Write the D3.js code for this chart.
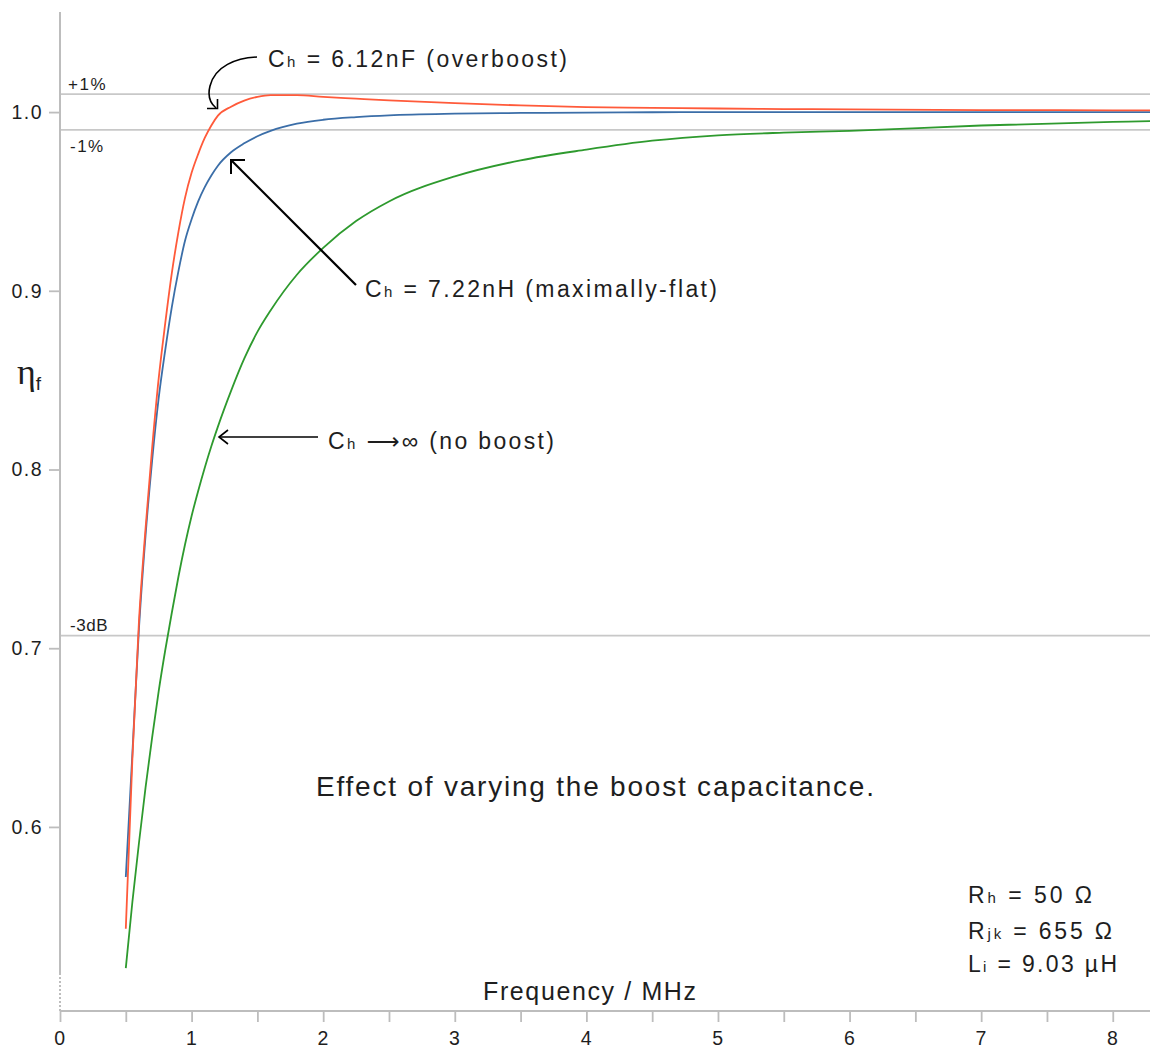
<!DOCTYPE html>
<html>
<head>
<meta charset="utf-8">
<script src="https://cdn.jsdelivr.net/npm/d3@7"></script>
<style>
body { margin: 0; background: #fff; }
text { font-family: "Liberation Sans", Arial, sans-serif; fill: #1e1e1e; }
</style>
</head>
<body>
<script>
// frequency grid (MHz) and the three responses
const freq = [0.5, 0.55, 0.6, 0.65, 0.7, 0.75, 0.8, 0.85, 0.9, 0.95, 1.0, 1.05, 1.1, 1.15, 1.2, 1.3, 1.4,
              1.5, 1.6, 1.8, 2.0, 2.25, 2.5, 3.0, 3.5, 4.0, 4.5, 5.0, 5.5, 6.0, 7.0, 8.0, 8.3];
const etaOverboost = [0.543, 0.638, 0.715, 0.767, 0.812, 0.851, 0.882, 0.910, 0.933, 0.952, 0.966,
                      0.9765, 0.9855, 0.9925, 0.998, 1.003, 1.0064, 1.0085, 1.0095, 1.0095, 1.0085,
                      1.0075, 1.0065, 1.005, 1.0037, 1.0028, 1.0024, 1.002, 1.0017, 1.0015, 1.0011,
                      1.001, 1.0009];
const etaMaxFlat = [0.572, 0.641, 0.711, 0.763, 0.805, 0.840, 0.867, 0.891, 0.911, 0.928, 0.940,
                    0.950, 0.958, 0.9645, 0.970, 0.9775, 0.9825, 0.9865, 0.9895, 0.9935, 0.9957,
                    0.9972, 0.9982, 0.9991, 0.9995, 0.9997, 0.9999, 1.0, 1.0, 1.0, 1.0, 1.0, 1.0];
const etaNoBoost = [0.521, 0.558, 0.591, 0.622, 0.650, 0.676, 0.699, 0.720, 0.740, 0.758, 0.774,
                    0.788, 0.801, 0.813, 0.824, 0.844, 0.862, 0.877, 0.889, 0.909, 0.924,
                    0.939, 0.950, 0.964, 0.973, 0.979, 0.984, 0.987, 0.9885, 0.9895, 0.9925,
                    0.9945, 0.995];

const xTickValues = [0, 0.5, 1, 1.5, 2, 2.5, 3, 3.5, 4, 4.5, 5, 5.5, 6, 6.5, 7, 7.5, 8];
const yTickValues = [0.6, 0.7, 0.8, 0.9, 1.0];
const refLevels = [1.01, 0.99, 0.7071];
const refLabels = ["+1%", "-1%", "-3dB"];
const params = [["R", "h", " = 50 Ω"], ["R", "jk", " = 655 Ω"], ["L", "i", " = 9.03 µH"]];

let width = 1150, height = 1048;

let svg = d3.select("body")
            .append("svg")
            .attr("width", width)
            .attr("height", height);

let xScale = d3.scaleLinear().domain([0, 8.283]).range([60, 1150]);
let yScale = d3.scaleLinear().domain([0.497, 1.056]).range([1011, 12]);

svg.append("clipPath").attr("id", "plot")
    .append("rect").attr("x", 60).attr("y", 0).attr("width", 1090).attr("height", 1011);

// reference lines (+1%, -1%, -3dB)
svg.selectAll(".ref")
    .data(refLevels)
    .enter()
    .append("line")
        .attr("x1", xScale(0)).attr("x2", width)
        .attr("y1", d => yScale(d)).attr("y2", d => yScale(d))
        .attr("stroke", "#c8c8c8")
        .attr("stroke-width", 1.8);

svg.selectAll(".reflabel")
    .data(refLevels)
    .enter()
    .append("text")
        .attr("x", (d, i) => i == 0 ? 68 : 70)
        .attr("y", (d, i) => i == 1 ? yScale(d) + 22 : yScale(d) - 4.5)
        .attr("font-size", 17)
        .attr("letter-spacing", (d, i) => i == 2 ? 0.6 : 1.5)
        .text((d, i) => refLabels[i]);

// axes
const xAxis = d3.axisBottom(xScale)
                .tickValues(xTickValues)
                .tickSize(11)
                .tickSizeOuter(0)
                .tickPadding(9)
                .tickFormat(d => Number.isInteger(d) ? d : "");

const yAxis = d3.axisLeft(yScale)
                .tickValues(yTickValues)
                .tickSize(11)
                .tickPadding(6)
                .tickFormat(d3.format(".1f"));

let gx = svg.append("g")
    .attr("transform", "translate(0,1011)")
    .call(xAxis);

let gy = svg.append("g")
    .attr("transform", "translate(60,0)")
    .call(yAxis);

gy.select(".domain").remove();
gx.select(".domain").remove();

[gx, gy].forEach(g => {
    g.selectAll("line").attr("stroke", "#bdbdbd").attr("stroke-width", 1.8);
    g.selectAll("text")
        .attr("font-family", "Liberation Sans, Arial, sans-serif")
        .attr("font-size", 19.5)
        .attr("letter-spacing", 1.5)
        .attr("fill", "#1e1e1e");
});

svg.append("line")
    .attr("x1", 60).attr("x2", width).attr("y1", 1011).attr("y2", 1011)
    .attr("stroke", "#bdbdbd").attr("stroke-width", 2);
svg.append("line")
    .attr("x1", 60).attr("x2", 60).attr("y1", 12).attr("y2", 973)
    .attr("stroke", "#bdbdbd").attr("stroke-width", 2);
svg.append("line")
    .attr("x1", 60).attr("x2", 60).attr("y1", 973).attr("y2", 1011)
    .attr("stroke", "#bdbdbd").attr("stroke-width", 2)
    .attr("stroke-dasharray", "2,2");

// the three curves
let line = d3.line()
    .x(d => xScale(d[0]))
    .y(d => yScale(d[1]))
    .curve(d3.curveMonotoneX);

const series = [
    {values: etaNoBoost, color: "#2e9a2e"},
    {values: etaMaxFlat, color: "#3b6ea8"},
    {values: etaOverboost, color: "#ff5a3a"}
];

svg.append("g")
    .attr("clip-path", "url(#plot)")
    .selectAll("path")
    .data(series)
    .enter()
    .append("path")
        .attr("fill", "none")
        .attr("stroke", d => d.color)
        .attr("stroke-width", 1.8)
        .attr("d", d => line(freq.map((f, i) => [f, d.values[i]])));

// annotations
function label(x, y, size, parts, len) {
    let t = svg.append("text").attr("x", x).attr("y", y).attr("font-size", size);
    parts.forEach(p => {
        let s = t.append("tspan").attr("font-size", p[1]).text(p[0]);
        if (p[2]) s.attr("font-family", p[2]);
    });
    if (len) t.attr("textLength", len).attr("lengthAdjust", "spacing");
    return t;
}

label(268, 67, 23, [["C", 23], ["h", 15], [" = 6.12nF (overboost)", 23]], 299);
label(365, 297, 23, [["C", 23], ["h", 15], [" = 7.22nH (maximally-flat)", 23]], 352);
label(328, 449, 23, [["C", 23], ["h", 15], [" ", 23], ["⟶", 23, "DejaVu Sans, sans-serif"],
                     ["∞ (no boost)", 23]], 226);

params.forEach((p, i) => {
    label(968, [903, 939, 972][i], 23, [[p[0], 23], [p[1], 15], [p[2], 23]], [124, 144, 149][i]);
});

svg.append("text")
    .attr("x", 316).attr("y", 796)
    .attr("font-size", 28)
    .attr("textLength", 558).attr("lengthAdjust", "spacing")
    .text("Effect of varying the boost capacitance.");

svg.append("text")
    .attr("x", 483).attr("y", 1000)
    .attr("font-size", 25)
    .attr("textLength", 213).attr("lengthAdjust", "spacing")
    .text("Frequency / MHz");

let eta = svg.append("text").attr("x", 17).attr("y", 384);
eta.append("tspan")
    .attr("font-family", "Liberation Serif, serif")
    .attr("font-size", 36)
    .text("η");
eta.append("tspan")
    .attr("font-size", 19)
    .attr("dy", 6)
    .text("f");

// arrows
const arrows = svg.append("g")
    .attr("fill", "none")
    .attr("stroke", "#000");

arrows.append("path")
    .attr("stroke-width", 1.6)
    .attr("d", "M257,57 C236,58 215,66 210,86 C207,98 211,104 216,108");
arrows.append("path")
    .attr("stroke-width", 1.6)
    .attr("d", "M207,108.5 L217.5,108.5 L217.5,99");

arrows.append("path")
    .attr("stroke-width", 2.2)
    .attr("d", "M356,285 L231,160");
arrows.append("path")
    .attr("stroke-width", 2)
    .attr("d", "M231,174 L231,160 L245,160");

arrows.append("path")
    .attr("stroke-width", 1.6)
    .attr("d", "M318,437 L219,437");
arrows.append("path")
    .attr("stroke-width", 1.6)
    .attr("d", "M228,430 L219,437 L228,444");
</script>
</body>
</html>
